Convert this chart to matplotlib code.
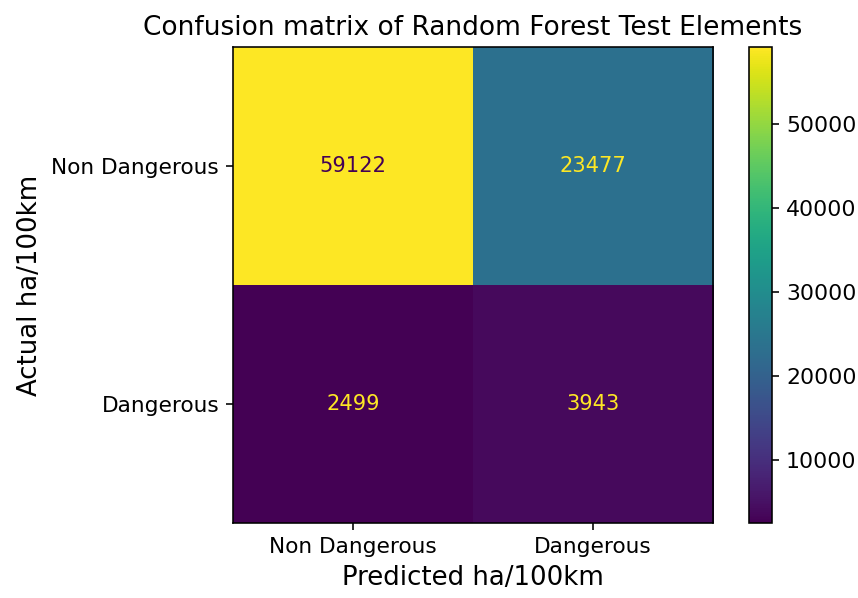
import numpy as np
import matplotlib
matplotlib.use("Agg")
import matplotlib.pyplot as plt

# confusion matrix counts (rows = actual, cols = predicted)
class_names = ["Non Dangerous", "Dangerous"]
counts = np.array([
    [59122, 23477],
    [2499, 3943],
])

fig = plt.figure(figsize=(858 / 144, 598 / 144), dpi=144)
ax = fig.add_axes([233 / 858, 1 - 523 / 598, 480 / 858, 476 / 598])
cax = fig.add_axes([749 / 858, 1 - 523 / 598, 23 / 858, 476 / 598])

cmap = plt.get_cmap("viridis")
im = ax.imshow(counts, interpolation="nearest", cmap=cmap, aspect="auto")

# text colour flips depending on the cell brightness
thresh = (counts.max() + counts.min()) / 2.0
for i in range(counts.shape[0]):
    for j in range(counts.shape[1]):
        color = cmap(0.0) if counts[i, j] >= thresh else cmap(1.0)
        ax.text(j, i, format(counts[i, j], "d"), ha="center", va="center",
                color=color, fontsize=10.5)

cb = fig.colorbar(im, cax=cax)
cb.ax.tick_params(labelsize=11)

ax.set_xticks(np.arange(len(class_names)))
ax.set_yticks(np.arange(len(class_names)))
ax.set_xticklabels(class_names)
ax.set_yticklabels(class_names)
ax.tick_params(labelsize=10.8)
ax.set_xlabel("Predicted ha/100km", fontsize=13)
ax.set_ylabel("Actual ha/100km", fontsize=13)
ax.set_title("Confusion matrix of Random Forest Test Elements", fontsize=13.2)

fig.savefig("out.png", dpi=144)
